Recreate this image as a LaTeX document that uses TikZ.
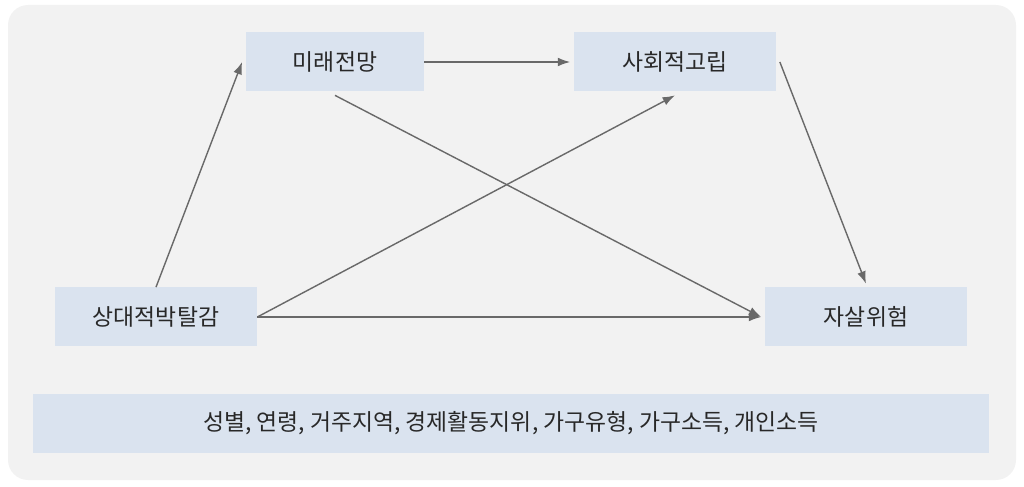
\documentclass[tikz,border=0pt]{standalone}
\usepackage{fontspec}
\setmainfont{Noto Sans CJK KR}
\usetikzlibrary{arrows.meta}
\definecolor{panel}{RGB}{242,242,242}
\definecolor{boxfill}{RGB}{218,227,239}
\definecolor{arrowgray}{RGB}{105,105,105}
\definecolor{textgray}{RGB}{40,40,40}

\begin{document}
\begin{tikzpicture}[
    box/.style={fill=boxfill, minimum height=1.18cm, inner sep=0pt, text=textgray, font=\fontsize{13}{15}\selectfont},
    link/.style={draw=arrowgray, line width=0.8pt, -{Latex[length=7pt,width=5pt]}}
  ]
    \useasboundingbox (0,0) rectangle (20.48,9.72);
    % background panel
    \fill[panel, rounded corners=0.4cm] (0.16,0.12) rectangle (20.32,9.62);

    % variables
    \node[box, minimum width=3.56cm] (future) at (6.70,8.48) {미래전망};
    \node[box, minimum width=4.04cm] (isolation) at (13.50,8.48) {사회적고립};
    \node[box, minimum width=4.04cm] (deprivation) at (3.12,3.38) {상대적박탈감};
    \node[box, minimum width=4.04cm] (suicide) at (17.32,3.38) {자살위험};
    \node[box, minimum width=19.12cm] (controls) at (10.22,1.26) {성별, 연령, 거주지역, 경제활동지위, 가구유형, 가구소득, 개인소득};

    % paths
    \draw[link] (deprivation.north) -- ([xshift=-2pt]future.west);
    \draw[link] (future.east) -- ([xshift=-2pt]isolation.west);
    \draw[link] (deprivation.east) -- ([yshift=-2pt]isolation.south);
    \draw[link] (deprivation.east) -- ([xshift=-2pt]suicide.west);
    \draw[link] ([yshift=-2pt]future.south) -- ([xshift=-2pt]suicide.west);
    \draw[link] ([xshift=2pt]isolation.east) -- ([yshift=2pt]suicide.north);
\end{tikzpicture}
\end{document}
